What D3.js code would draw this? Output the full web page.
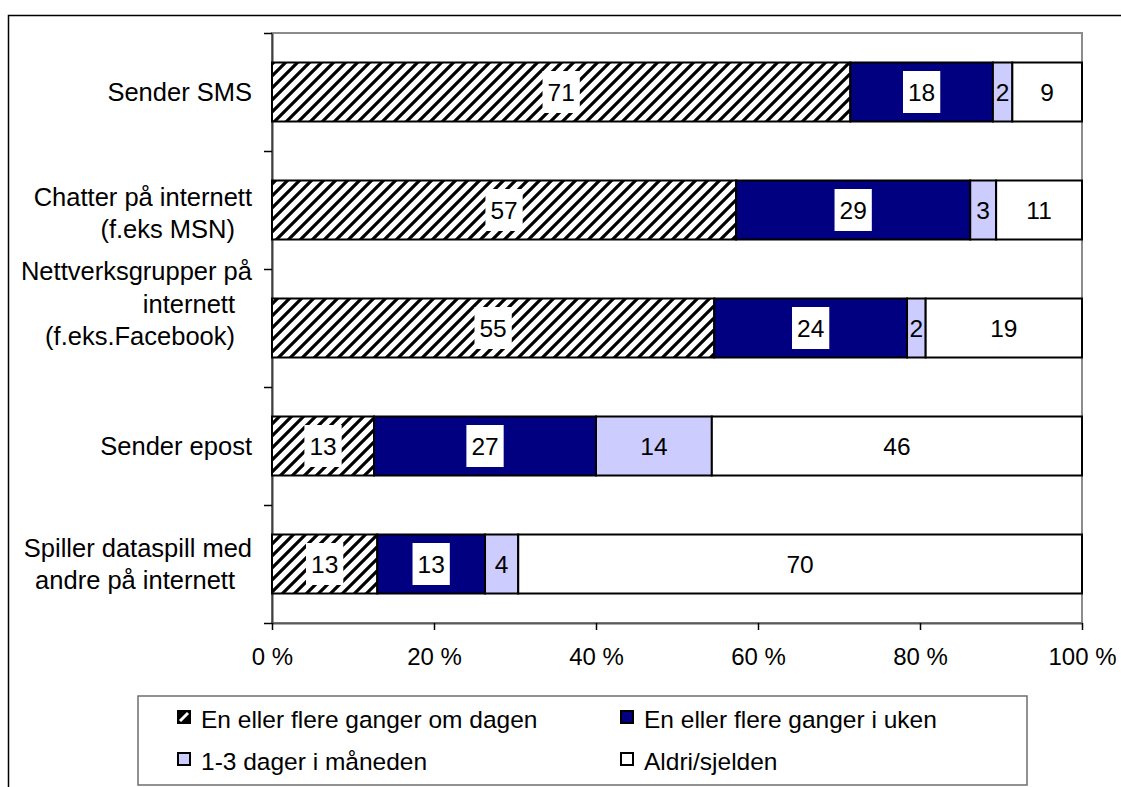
<!DOCTYPE html>
<html>
<head>
<meta charset="utf-8">
<script src="https://cdn.jsdelivr.net/npm/d3@7/dist/d3.min.js"></script>
<style>
    body { margin: 0; background: #fff; }
    text { font-family: "Liberation Sans", Arial, sans-serif; fill: #000; }
</style>
</head>
<body>
<div id="chart"></div>
<script>
// categories (line breaks as in the original labels)
var categories = [
    "Sender SMS",
    "Chatter på internett\n(f.eks MSN)",
    "Nettverksgrupper på\ninternett\n(f.eks.Facebook)",
    "Sender epost",
    "Spiller dataspill med\nandre på internett"
];
var seriesNames = [
    "En eller flere ganger om dagen",
    "En eller flere ganger i uken",
    "1-3 dager i måneden",
    "Aldri/sjelden"
];
// percent per category
var omDagen = [71.4, 57.3, 54.6, 12.6, 13.0];
var iUken = [17.6, 28.9, 23.8, 27.4, 13.3];
var iMaaneden = [2.4, 3.2, 2.3, 14.3, 4.1];
var aldri = [8.6, 10.6, 19.3, 45.7, 69.6];
var xTicks = [0, 20, 40, 60, 80, 100];

(function() {
    'use strict';

    var W = 1121, H = 787;
    var plot = {left: 272, top: 33, right: 1082, bottom: 623};
    var fills = ["url(#hatch)", "#000080", "#ccccff", "#ffffff"];
    var boxed = [true, true, false, false];
    // excel nudges the wrapped labels a bit
    var labelShift = [0, 3, -24, 0, 0];

    var keys = ["s0", "s1", "s2", "s3"];
    var table = categories.map(function(c, i) {
        return {key: i, s0: omDagen[i], s1: iUken[i], s2: iMaaneden[i], s3: aldri[i]};
    });

    var svg = d3.select("#chart").append("svg")
        .attr("width", W)
        .attr("height", H);

    // hatch pattern
    var defs = svg.append("defs");
    var pat = defs.append("pattern")
        .attr("id", "hatch")
        .attr("patternUnits", "userSpaceOnUse")
        .attr("width", 12)
        .attr("height", 12);
    pat.append("rect").attr("width", 12).attr("height", 12).attr("fill", "#fff");
    pat.append("path")
        .attr("d", "M-3,3 L3,-3 M0,12 L12,0 M9,15 L15,9")
        .attr("stroke", "#000")
        .attr("stroke-width", 3.2);

    var patSmall = defs.append("pattern")
        .attr("id", "hatchSmall")
        .attr("patternUnits", "objectBoundingBox")
        .attr("width", 1)
        .attr("height", 1);
    patSmall.append("rect").attr("width", 12).attr("height", 12).attr("fill", "#000");
    patSmall.append("path")
        .attr("d", "M2,10 L10,2")
        .attr("stroke", "#fff")
        .attr("stroke-width", 3);

    // outer chart border
    svg.append("rect")
        .attr("x", 8.5).attr("y", 15.5)
        .attr("width", 1300).attr("height", 900)
        .attr("fill", "none")
        .attr("stroke", "#000")
        .attr("stroke-width", 1.5);

    var x = d3.scaleLinear()
        .domain([0, 100])
        .range([plot.left, plot.right]);

    var y = d3.scaleBand()
        .domain(d3.range(categories.length))
        .range([plot.top, plot.bottom])
        .paddingInner(0.5)
        .paddingOuter(0.25);

    // plot area frame
    svg.append("rect")
        .attr("x", plot.left).attr("y", plot.top)
        .attr("width", plot.right - plot.left)
        .attr("height", plot.bottom - plot.top)
        .attr("fill", "none")
        .attr("stroke", "#8c8c8c")
        .attr("stroke-width", 2);

    // category axis: ticks between categories
    var yb = d3.scaleLinear()
        .domain([0, categories.length])
        .range([plot.top, plot.bottom]);
    var yAxis = svg.append("g")
        .attr("transform", "translate(" + plot.left + ",0)")
        .call(d3.axisLeft(yb).ticks(categories.length).tickSize(8).tickSizeOuter(0).tickFormat(""));
    yAxis.select(".domain").attr("stroke", "#404040").attr("stroke-width", 2);
    yAxis.selectAll("line").attr("stroke", "#000").attr("stroke-width", 1.5);

    // category labels
    categories.forEach(function(c, i) {
        var lines = c.split("\n");
        var lh = 32.5;
        var cy = y(i) + y.bandwidth() / 2 - (lines.length - 1) * lh / 2 + labelShift[i];
        var t = svg.append("text")
            .attr("text-anchor", "end")
            .style("font-size", "25.5px");
        lines.forEach(function(l, j) {
            t.append("tspan")
                .attr("x", j === 0 ? 252 : 235)
                .attr("y", cy + j * lh)
                .attr("dy", "0.35em")
                .text(l);
        });
    });

    // value axis
    var xAxis = svg.append("g")
        .attr("transform", "translate(0," + plot.bottom + ")")
        .call(d3.axisBottom(x).tickValues(xTicks).tickSize(7).tickSizeOuter(0).tickPadding(18)
            .tickFormat(function(d) { return d + " %"; }));
    xAxis.select(".domain").attr("stroke", "#595959").attr("stroke-width", 2);
    xAxis.selectAll("line").attr("stroke", "#000").attr("stroke-width", 1.5);
    xAxis.selectAll("text")
        .style("font-size", "24px")
        .style("font-family", "\"Liberation Sans\", Arial, sans-serif")
        .attr("fill", "#000");

    // stacked bars
    var stack = d3.stack().keys(keys)(table);

    var serie = svg.selectAll(".serie")
        .data(stack)
        .enter().append("g")
        .attr("class", "serie")
        .attr("fill", function(d) { return fills[d.index]; });

    serie.selectAll("rect")
        .data(function(d) { return d; })
        .enter().append("rect")
        .attr("x", function(d) { return x(d[0]); })
        .attr("y", function(d) { return y(d.data.key); })
        .attr("width", function(d) { return x(d[1]) - x(d[0]); })
        .attr("height", y.bandwidth())
        .attr("stroke", "#000")
        .attr("stroke-width", 2);

    // data labels
    stack.forEach(function(s, si) {
        s.forEach(function(d) {
            var cx = (x(d[0]) + x(d[1])) / 2;
            var cy = y(d.data.key) + y.bandwidth() / 2;
            var g = svg.append("g");
            var bg = g.append("rect");
            var t = g.append("text")
                .attr("x", cx)
                .attr("y", cy)
                .attr("dy", "0.35em")
                .attr("text-anchor", "middle")
                .style("font-size", "24.5px")
                .text(Math.round(d[1] - d[0]));
            if (boxed[si]) {
                var w = t.node().getComputedTextLength() + 10;
                bg.attr("x", cx - w / 2)
                    .attr("y", cy - 21)
                    .attr("width", w)
                    .attr("height", 42)
                    .attr("fill", "#fff");
            } else {
                bg.remove();
            }
        });
    });

    // legend
    var legendBox = {x: 138, y: 696, w: 889, h: 89};
    svg.append("rect")
        .attr("x", legendBox.x).attr("y", legendBox.y)
        .attr("width", legendBox.w).attr("height", legendBox.h)
        .attr("fill", "#fff")
        .attr("stroke", "#6e6e6e")
        .attr("stroke-width", 1.5);

    var colX = [178, 621];
    var rowY = [719, 761];
    var legendFills = ["url(#hatchSmall)", fills[1], fills[2], fills[3]];

    var legend = svg.selectAll(".legend")
        .data(seriesNames)
        .enter().append("g")
        .attr("class", "legend")
        .attr("transform", function(d, i) {
            return "translate(" + colX[i % 2] + "," + rowY[Math.floor(i / 2)] + ")";
        });

    legend.append("rect")
        .attr("x", 0)
        .attr("y", -8)
        .attr("width", 12)
        .attr("height", 12)
        .attr("fill", function(d, i) { return legendFills[i]; })
        .attr("stroke", "#000")
        .attr("stroke-width", 2);

    legend.append("text")
        .attr("x", 23)
        .attr("y", 0)
        .attr("dy", "0.35em")
        .style("font-size", "24.5px")
        .text(function(d) { return d; });
})();
</script>
</body>
</html>
